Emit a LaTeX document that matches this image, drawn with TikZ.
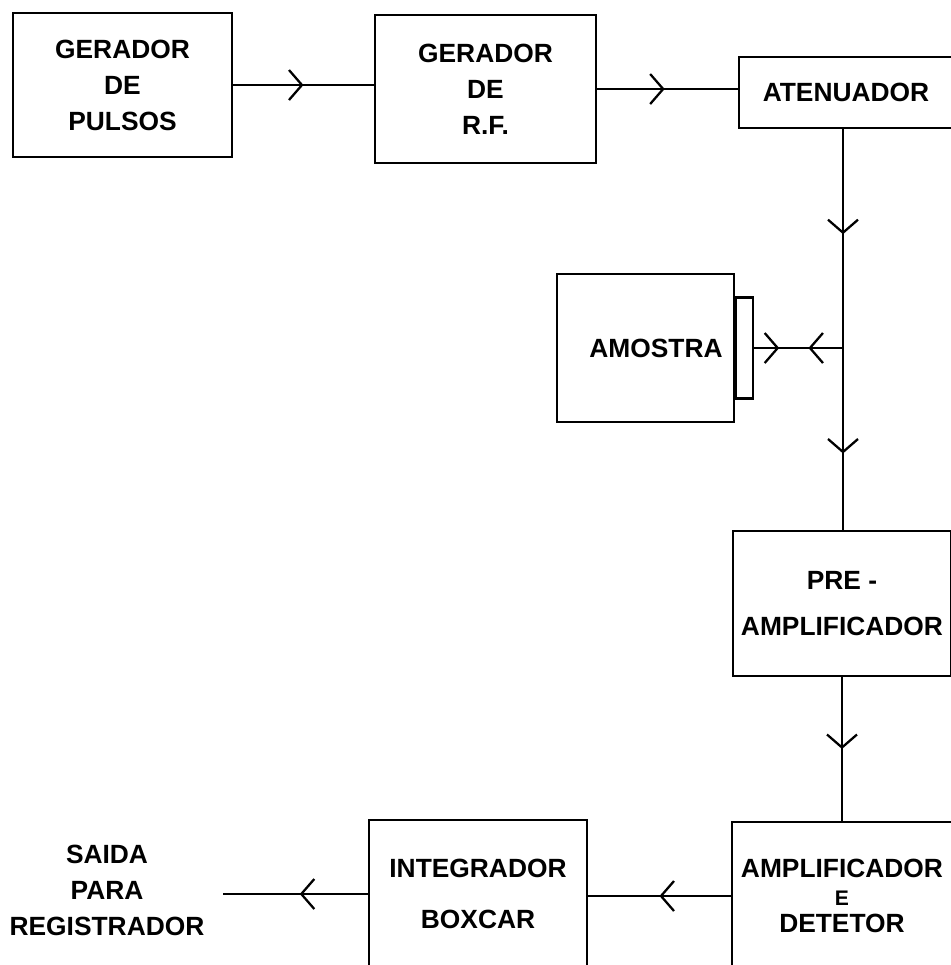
\documentclass[tikz,border=0pt]{standalone}
\usepackage{fontspec}
\setmainfont{Liberation Sans}
\usetikzlibrary{arrows.meta,positioning,decorations.markings}
\newcommand{\blkfont}{\bfseries\fontsize{15}{20.5}\selectfont}

\begin{document}
\begin{tikzpicture}[x=0.02cm, y=-0.02cm,
    blk/.style={draw, line width=1.3pt, inner sep=0pt, align=center, font=\blkfont},
    wire/.style={line width=1.3pt},
    chev/.tip={Straight Barb[length=2.6mm,width=6mm]},
    flow/.style={postaction={decorate, decoration={markings,
                 mark=at position #1 with {\arrow{chev}}}}},
    backflow/.style={postaction={decorate, decoration={markings,
                 mark=at position #1 with {\arrowreversed{chev}}}}}
  ]
    \clip (0,0) rectangle (951,965);

    \node[blk, minimum width=4.38cm, minimum height=2.88cm] (pulsos) at (122.5,85) {GERADOR\\DE\\PULSOS};
    \node[blk, minimum width=4.42cm, minimum height=2.96cm] (rf)     at (485.5,89) {GERADOR\\DE\\R.F.};
    \node[blk, minimum width=4.28cm, minimum height=1.42cm] (aten)   at (846,92.5) {ATENUADOR};
    \node[blk, minimum width=3.54cm, minimum height=2.96cm] (amostra) at (645.5,348) {\hspace{12pt}AMOSTRA};
    \node[blk, minimum width=0.34cm, minimum height=2.02cm, anchor=west] (tab) at (amostra.east) {};
    \node[blk, minimum width=4.36cm, minimum height=2.9cm]  (pre)    at (842,603.5) {PRE -\\[5.5pt]AMPLIFICADOR};
    \node[blk, minimum width=4.4cm,  minimum height=2.96cm] (amp)    at (842,896)
      {AMPLIFICADOR\\[-5pt]{\fontsize{12}{14}\selectfont E}\\[-5pt]DETETOR};
    \node[blk, minimum width=4.36cm, minimum height=2.96cm] (integ)  at (478,894) {INTEGRADOR\\[9pt]BOXCAR};
    \node[align=center, font=\blkfont] (saida) at (107,890) {SAIDA\\PARA\\REGISTRADOR};

    \coordinate (j)   at (843,348);
    \coordinate (out) at (223,894);

    \draw[wire, flow=0.5]  (pulsos.east) -- (pulsos.east -| rf.west);
    \draw[wire, flow=0.48] (rf.east) -- (rf.east -| aten.west);
    \draw[wire, flow=0.48] (j |- aten.south) -- (j);
    \draw[wire, flow=0.58] (j) -- (j |- pre.north);
    \draw[wire, flow=0.28, backflow=0.61] (tab.east) -- (tab.east -| j);
    \draw[wire, flow=0.5]  (pre.south) -- (amp.north);
    \draw[wire, flow=0.5]  (amp.west) -- (amp.west -| integ.east);
    \draw[wire, flow=0.47] (integ.west) -- (out);
\end{tikzpicture}
\end{document}
